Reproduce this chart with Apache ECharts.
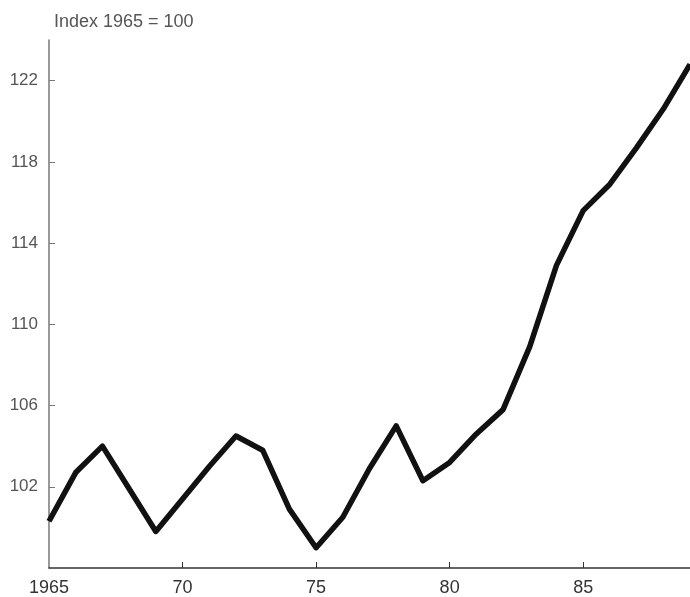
<!DOCTYPE html>
<html>
<head>
<meta charset="utf-8">
<script src="https://cdn.jsdelivr.net/npm/echarts@6/dist/echarts.min.js"></script>
<style>
html,body{margin:0;padding:0;background:#fff;}
#chart{width:690px;height:597px;}
</style>
</head>
<body>
<div id="chart"></div>
<script>
// Data
var years = [1965,1966,1967,1968,1969,1970,1971,1972,1973,1974,1975,1976,1977,1978,1979,1980,1981,1982,1983,1984,1985,1986,1987,1988,1989];
var indexValues = [100.3,102.7,104.0,101.9,99.8,101.4,103.0,104.5,103.8,100.9,99.0,100.5,102.9,105.0,102.3,103.2,104.6,105.8,108.9,112.9,115.6,116.9,118.7,120.6,122.8];
var xTickValues = [1965,1970,1975,1980,1985];
var xTickLabels = ['1965','70','75','80','85'];
var yTickValues = [102,106,110,114,118,122];
var yTickLabels = ['102','106','110','114','118','122'];
var titleText = 'Index 1965 = 100';

var seriesData = years.map(function(y,i){ return [y, indexValues[i]]; });

var chart = echarts.init(document.getElementById('chart'), null, {renderer:'canvas'});
chart.setOption({
  animation: false,
  backgroundColor: '#ffffff',
  title: {
    text: titleText,
    left: 49,
    top: 8,
    textStyle: {fontFamily: 'Liberation Sans, Arial, sans-serif', fontSize: 18, fontWeight: 'normal', color: '#555'}
  },
  grid: {left: 49, right: -2, top: 40, bottom: 27, containLabel: false},
  xAxis: {
    type: 'value',
    min: 1965,
    max: 1989,
    splitLine: {show: false},
    axisLine: {show: true, onZero: false, lineStyle: {color: '#333', width: 1.5}},
    axisTick: {show: true, inside: true, length: 6, customValues: xTickValues.slice(1), lineStyle: {color: '#333', width: 1}},
    axisLabel: {
      customValues: xTickValues,
      margin: 11,
      fontFamily: 'Liberation Sans, Arial, sans-serif',
      fontSize: 18,
      color: '#333',
      formatter: function(v){ var i = xTickValues.indexOf(v); return i >= 0 ? xTickLabels[i] : ''; }
    }
  },
  yAxis: {
    type: 'value',
    min: 98,
    max: 124,
    splitLine: {show: false},
    axisLine: {show: true, onZero: false, lineStyle: {color: '#777', width: 1.5}},
    axisTick: {show: true, inside: true, length: 6, customValues: yTickValues, lineStyle: {color: '#777', width: 1}},
    axisLabel: {
      customValues: yTickValues,
      margin: 11,
      fontFamily: 'Liberation Sans, Arial, sans-serif',
      fontSize: 17,
      color: '#555',
      formatter: function(v){ var i = yTickValues.indexOf(v); return i >= 0 ? yTickLabels[i] : ''; }
    }
  },
  series: [{
    type: 'line',
    data: seriesData,
    showSymbol: false,
    smooth: false,
    clip: false,
    lineStyle: {color: '#111', width: 5.5, join: 'round'}
  }]
});
</script>
</body>
</html>
